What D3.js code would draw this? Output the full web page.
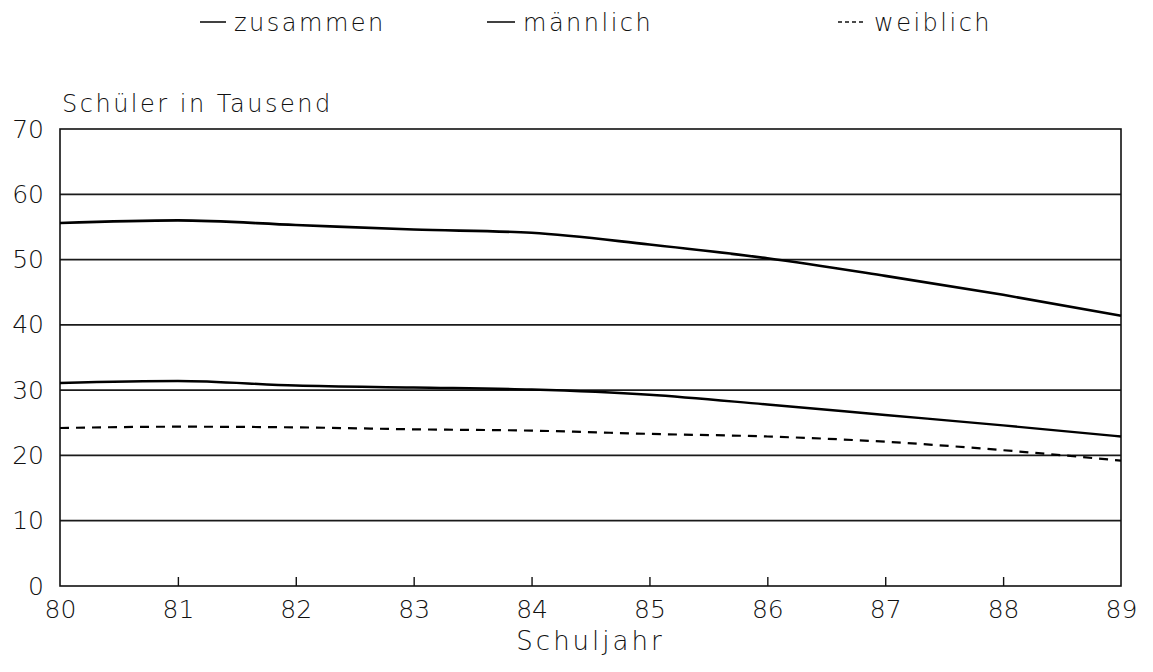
<!DOCTYPE html>
<html>
<head>
<meta charset="utf-8">
<script src="https://cdn.jsdelivr.net/npm/d3@7"></script>
<style>
  html, body { margin: 0; padding: 0; background: #fff; }
  svg text { font-family: "DejaVu Sans", sans-serif; fill: #111; }
</style>
</head>
<body>
<svg id="chart" width="1153" height="672"></svg>
<script>
// ---- data ----
const years = [80, 81, 82, 83, 84, 85, 86, 87, 88, 89];
const zusammen = [55.6, 56.0, 55.3, 54.6, 54.1, 52.3, 50.2, 47.5, 44.6, 41.4];
const maennlich = [31.1, 31.4, 30.7, 30.4, 30.1, 29.3, 27.8, 26.2, 24.6, 22.9];
const weiblich = [24.2, 24.4, 24.3, 24.0, 23.8, 23.3, 22.9, 22.1, 20.8, 19.2];
const yTicks = [0, 10, 20, 30, 40, 50, 60, 70];
const seriesNames = ["zusammen", "männlich", "weiblich"];
const yTitle = "Schüler in Tausend";
const xTitle = "Schuljahr";

// ---- layout ----
const svg = d3.select("#chart");
const mLeft = 60, mRight = 1121, mTop = 129, mBottom = 586;

const x = d3.scaleLinear().domain([80, 89]).range([mLeft, mRight]);
const y = d3.scaleLinear().domain([0, 70]).range([mBottom, mTop]);

// gridlines
svg.append("g").selectAll("line")
  .data(yTicks.filter(v => v > 0 && v < 70))
  .join("line")
  .attr("x1", mLeft).attr("x2", mRight)
  .attr("y1", d => y(d)).attr("y2", d => y(d))
  .attr("stroke", "#1a1a1a").attr("stroke-width", 1.8);

// frame
svg.append("rect")
  .attr("x", mLeft).attr("y", mTop)
  .attr("width", mRight - mLeft).attr("height", mBottom - mTop)
  .attr("fill", "none").attr("stroke", "#111").attr("stroke-width", 1.6);

// bottom axis ticks (inward)
const xAxis = d3.axisBottom(x).tickValues(years).tickSize(-9).tickFormat(d => d);
const gx = svg.append("g").attr("transform", `translate(0,${mBottom})`).call(xAxis);
gx.select(".domain").remove();
gx.selectAll(".tick line").attr("stroke", "#111").attr("stroke-width", 1.4)
  .attr("display", d => (d === 80 || d === 89) ? "none" : null);
gx.selectAll(".tick text")
  .attr("y", 14).attr("dy", "0.71em")
  .style("font-size", "25px").style("font-family", "DejaVu Sans, sans-serif")
  .attr("fill", "#111").attr("font-weight", 300);

// left axis labels
const yAxis = d3.axisLeft(y).tickValues(yTicks).tickSize(0).tickFormat(d => d);
const gy = svg.append("g").attr("transform", `translate(${mLeft},0)`).call(yAxis);
gy.select(".domain").remove();
gy.selectAll(".tick text")
  .attr("x", -16)
  .style("font-size", "25px").style("font-family", "DejaVu Sans, sans-serif")
  .attr("fill", "#111").attr("font-weight", 300);

// lines
const line = d3.line().x((d, i) => x(years[i])).y(d => y(d)).curve(d3.curveMonotoneX);
svg.append("path").datum(zusammen).attr("d", line)
  .attr("fill", "none").attr("stroke", "#000").attr("stroke-width", 2.6);
svg.append("path").datum(maennlich).attr("d", line)
  .attr("fill", "none").attr("stroke", "#000").attr("stroke-width", 2.4);
svg.append("path").datum(weiblich).attr("d", line)
  .attr("fill", "none").attr("stroke", "#000").attr("stroke-width", 2.2)
  .attr("stroke-dasharray", "9,7");

// titles
svg.append("text").attr("x", 62).attr("y", 112).text(yTitle)
  .style("font-size", "24px").attr("letter-spacing", "2.5px").attr("font-weight", 300);
svg.append("text").attr("x", (mLeft + mRight) / 2).attr("y", 650).attr("text-anchor", "middle")
  .text(xTitle).style("font-size", "26px").attr("letter-spacing", "3px").attr("font-weight", 300);

// legend
const legendItems = [
  { name: seriesNames[0], x0: 200, len: 26, dash: null },
  { name: seriesNames[1], x0: 487, len: 28, dash: null },
  { name: seriesNames[2], x0: 838, len: 28, dash: "4,3" }
];
const lg = svg.append("g");
legendItems.forEach(it => {
  lg.append("line").attr("x1", it.x0).attr("x2", it.x0 + it.len)
    .attr("y1", 22).attr("y2", 22)
    .attr("stroke", "#111").attr("stroke-width", 1.6)
    .attr("stroke-dasharray", it.dash);
  lg.append("text").attr("x", it.x0 + it.len + 8).attr("y", 31).text(it.name)
    .style("font-size", "24px").attr("letter-spacing", "2.5px").attr("font-weight", 300);
});
</script>
</body>
</html>
